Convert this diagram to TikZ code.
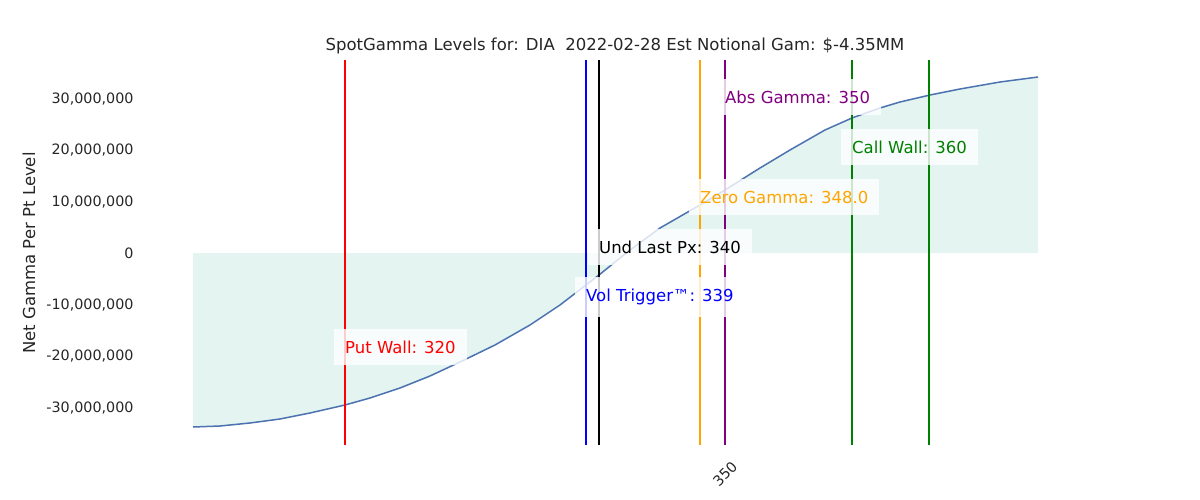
\documentclass[tikz,border=0pt]{standalone}
\usepackage{fontspec}
\setmainfont{DejaVu Sans}
\definecolor{mplorange}{RGB}{255,165,0}
\definecolor{mplpurple}{RGB}{128,0,128}
\definecolor{mplgreen}{RGB}{0,128,0}
\definecolor{curvec}{RGB}{76,114,176}
\definecolor{fillc}{RGB}{227,244,241}
\begin{document}
\begin{tikzpicture}[x=1pt,y=-1pt,
  lab/.style={fill=white,fill opacity=0.8,text opacity=1,inner xsep=11pt,inner ysep=12pt,anchor=west,font=\fontsize{16.5}{19}\selectfont},
  tick/.style={font=\fontsize{14.3}{17}\selectfont,text=black!85,anchor=east},
  vl/.style={line width=1.5pt}]
\useasboundingbox (0,0) rectangle (1200,500);
\def\curve{(193,427) -- (220,426) -- (250,423) -- (280,419) -- (310,413) -- (345,405) -- (370,398) -- (400,388) -- (430,376) -- (460,362) -- (495,345) -- (530,325) -- (560,305) -- (586,285) -- (599,275) -- (630,250) -- (660,228) -- (700,205) -- (725,190) -- (760,168) -- (790,150) -- (825,130) -- (852,118) -- (880,108) -- (900,102) -- (930,95) -- (960,89) -- (1000,82) -- (1038,77)}
\fill[fillc] (193,253) -- \curve -- (1038,253) -- cycle;
\draw[line width=1.5pt,curvec] \curve;
\draw[vl,red] (345,60) -- (345,445);
\draw[vl,blue] (586,60) -- (586,445);
\draw[vl,black] (599,60) -- (599,445);
\draw[vl,mplorange] (700,60) -- (700,445);
\draw[vl,mplpurple] (725,60) -- (725,445);
\draw[vl,mplgreen] (852,60) -- (852,445);
\draw[vl,mplgreen] (929,60) -- (929,445);
\node[lab,text=red] (pw) at (334,347) {Put Wall: 320};
\node[lab,text=blue] (vt) at (575,297) {Vol Trigger™: 339};
\node[lab,text=black] (ul) at (588,247) {Und Last Px: 340};
\node[lab,text=mplorange] (zg) at (689,197) {Zero Gamma: 348.0};
\node[lab,text=mplpurple] (ag) at (714,97) {Abs Gamma: 350};
\node[lab,text=mplgreen] (cw) at (841,147) {Call Wall: 360};
\node[font=\fontsize{16.5}{19}\selectfont,text=black!85] (t) at (615,46) {SpotGamma Levels for: DIA\ \ 2022-02-28 Est Notional Gam: \$-4.35MM};
\node[rotate=90,font=\fontsize{16.5}{19}\selectfont,text=black!85] (yl) at (29,253) {Net Gamma Per Pt Level};
\node[tick] (y1) at (137,99) {30,000,000};
\node[tick] (y2) at (137,150) {20,000,000};
\node[tick] (y3) at (137,202) {10,000,000};
\node[tick] (y4) at (137,253) {0};
\node[tick] (y5) at (137,305) {-10,000,000};
\node[tick] (y6) at (137,356) {-20,000,000};
\node[tick] (y7) at (137,408) {-30,000,000};
\node[font=\fontsize{14.3}{17}\selectfont,text=black!85,rotate=45,inner sep=0pt] (x1) at (725,474) {350};
\end{tikzpicture}
\end{document}
